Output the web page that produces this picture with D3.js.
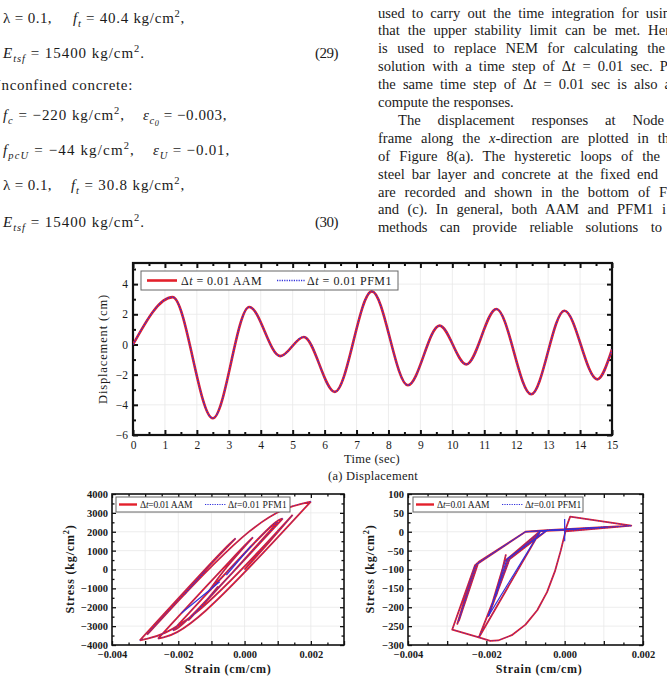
<!DOCTYPE html>
<html>
<head>
<meta charset="utf-8">
<script src="https://d3js.org/d3.v7.min.js"></script>
<style>
  body { margin: 0; background: #fff; }
  svg text { font-family: "Liberation Serif", "DejaVu Serif", serif; fill: #1a1a1a; }
</style>
</head>
<body>
<svg id="page" width="667" height="676"></svg>
<script>
// ---- data ----
// (a) displacement at the node, extrema of the record (sec, cm)
var dispTime = [0, 1.24, 2.50, 3.64, 4.61, 5.35, 6.32, 7.48, 8.61, 9.60, 10.44, 11.38, 12.47, 13.51, 14.54, 15.0];
var dispAAM  = [0, 3.14, -4.89, 2.48, -0.77, 0.50, -3.14, 3.52, -2.70, 1.25, -1.32, 2.35, -3.30, 2.24, -2.31, -0.33];

// (b) steel bar: reversal points and branch knees (strain x 1e-3, kg/cm2)
var steelRev = [[0,0],[1.45,2890],[-3.16,-3750],[-0.27,1650],[-1.80,-1300],[-1.20,-100],[-2.94,-3450],
                [2.00,3600],[-2.61,-3660],[0.25,1700],[-1.10,-1200],[1.15,2700],[-2.16,-3220],[1.00,2500],
                [-1.70,-2700],[-0.80,-900]];
var steelKnee = [[0.75,1450],[-1.75,-3185],[-0.60,1150],[-1.10,150],[-1.50,-700],[-2.10,-1810],[0.44,2970],
                 [-1.61,-3260],[0.00,1300],[-0.60,50],[0.90,2600],[-1.91,-3110],[0.81,2420],[-1.10,-1600],
                 [-1.25,-1850]];
var steelPFMOnly = [[[-1.90,-2300],[-0.75,-650]], [[-0.55,-300],[0.20,1250]]];

// (c) concrete path (strain x 1e-3, kg/cm2)
var concAAM = [
  [0,0],[0.14,40],[1.70,16],[0.02,1],
  [-0.10,-50],[-0.25,-105],[-0.45,-160],[-0.70,-208],[-1.00,-246],[-1.35,-274],[-1.70,-288],[-1.90,-289],[-2.19,-280],
  [-2.87,-259],[-2.29,-89],[-1.00,0],[-0.45,4],[1.03,12],
  [-0.62,2],[-0.90,-30],[-0.45,4],[0.20,6],
  [-1.00,0],[-2.29,-89],[-2.74,-244],
  [-2.25,-85],[-1.00,0],[-0.45,4],[1.70,16],
  [-0.62,2],[-2.19,-280],
  [-1.41,-73],[-0.45,4],[0.35,7],
  [-0.62,2],[-1.53,-78],[-1.94,-222],
  [-1.41,-73],[-0.62,2],[1.10,13],
  [-1.00,0],[-2.27,-88],[-2.70,-236],
  [-2.20,-80],[-1.00,0],[-0.45,4],[0.90,11],
  [-0.62,2],[-1.45,-75],[-1.75,-170],
  [-1.50,-60]
];
var concPFMOnly = [[[-0.45,4],[-1.47,-72],[-1.95,-225]], [[-1.94,-222],[-0.62,2]], [[0,34],[0,-25]]];

var legendNames = ["AAM", "PFM1"];

// ---- page ----
var page = d3.select("#page");
var RED = "#e3202b", BLUE = "#3030dc";

// text with sub/superscripts, optionally stretched to a width
function segText(g, x, y, segs, size, target, mode) {
  var t = g.append("text").attr("x", x).attr("y", y).style("font-size", size + "px");
  var off = 0;
  segs.forEach(function(s) {
    var kind = s[1] || "", want = 0, fs = size;
    if (kind == "sub") { want = size * 0.28; fs = size * 0.7; }
    if (kind == "subsub") { want = size * 0.42; fs = size * 0.55; }
    if (kind == "sup") { want = -size * 0.4; fs = size * 0.7; }
    var ts = t.append("tspan").text(s[0]).attr("dy", want - off).style("font-size", fs + "px");
    off = want;
    if (kind == "i" || kind == "sub" || kind == "subsub") ts.style("font-style", "italic");
  });
  if (target) {
    var w = t.node().getComputedTextLength();
    var str = t.text();
    if (mode == "word") {
      var n = str.split(" ").length - 1;
      if (n > 0) t.style("word-spacing", ((target - w) / n) + "px");
    } else {
      t.style("letter-spacing", ((target - w) / str.length) + "px");
    }
  }
  return t;
}
function parse(str) {
  return str.split("*").map(function(p, i) { return [p, i % 2 ? "i" : ""]; });
}

// left column equations
var eq = page.append("g");
segText(eq, 3, 23, [["λ = 0.1,"]], 15, 49);
segText(eq, 73, 23, [["f","i"],["t","sub"],[" = 40.4 kg/cm"],["2","sup"],[","]], 15, 112);
segText(eq, 3, 58, [["E","i"],["tsf","sub"],[" = 15400 kg/cm"],["2","sup"],["."]], 15, 142);
segText(eq, 315, 58, [["(29)"]], 15, 23);
segText(eq, -10, 90, [["Unconfined concrete:"]], 15, 143);
segText(eq, 3, 120, [["f","i"],["c","sub"],[" = −220 kg/cm"],["2","sup"],[","]], 15, 122);
segText(eq, 143, 120, [["ε","i"],["c","sub"],["0","subsub"],[" = −0.003,"]], 15, 84);
segText(eq, 3, 155, [["f","i"],["pcU","sub"],[" = −44 kg/cm"],["2","sup"],[","]], 15, 132);
segText(eq, 153, 155, [["ε","i"],["U","sub"],[" = −0.01,"]], 15, 77);
segText(eq, 3, 190, [["λ = 0.1,"]], 15, 49);
segText(eq, 71, 190, [["f","i"],["t","sub"],[" = 30.8 kg/cm"],["2","sup"],[","]], 15, 114);
segText(eq, 3, 227, [["E","i"],["tsf","sub"],[" = 15400 kg/cm"],["2","sup"],["."]], 15, 142);
segText(eq, 315, 227, [["(30)"]], 15, 23);

// right column paragraph
var body = [
  ["used to carry out the time integration for usin", 378, 292],
  ["that the upper stability limit can be met. Her", 378, 292],
  ["is used to replace NEM for calculating the", 378, 287],
  ["solution with a time step of Δ*t* = 0.01 sec. P", 378, 290],
  ["the same time step of Δ*t* = 0.01 sec is also a", 378, 293],
  ["compute the responses.", 378, 0],
  ["The displacement responses at Node", 398, 266],
  ["frame along the *x*-direction are plotted in th", 378, 291],
  ["of Figure 8(a). The hysteretic loops of the", 378, 282],
  ["steel bar layer and concrete at the fixed end", 378, 280],
  ["are recorded and shown in the bottom of F", 378, 289],
  ["and (c). In general, both AAM and PFM1 i", 378, 288],
  ["methods can provide reliable solutions to", 378, 284]
];
var para = page.append("g");
body.forEach(function(b, i) {
  segText(para, b[1], 17.5 + i * 17.9, parse(b[0]), 14.6, b[2], "word");
});

// ---- axes frame helper ----
function drawFrame(o) {
  var g = page.append("g");
  var x0 = o.x.range()[0], x1 = o.x.range()[1], y0 = o.y.range()[1], y1 = o.y.range()[0];
  g.selectAll(".gx").data(o.xGrid).enter().append("line")
    .attr("x1", function(d) { return o.x(d); }).attr("x2", function(d) { return o.x(d); })
    .attr("y1", y0).attr("y2", y1).attr("stroke", "#e9e9e9").attr("stroke-width", 0.8);
  g.selectAll(".gy").data(o.yGrid).enter().append("line")
    .attr("y1", function(d) { return o.y(d); }).attr("y2", function(d) { return o.y(d); })
    .attr("x1", x0).attr("x2", x1).attr("stroke", "#e9e9e9").attr("stroke-width", 0.8);

  function ax(gen, scale, vals, len, fmt, tr, pad) {
    var a = g.append("g").attr("transform", tr)
      .call(gen(scale).tickValues(vals).tickSize(-len).tickPadding(pad).tickFormat(fmt || ""));
    a.select(".domain").remove();
    a.selectAll("line").attr("stroke", "#111").attr("stroke-width", o.tickW);
    a.selectAll("text").style("font-size", o.fs + "px").style("font-weight", o.bold ? "bold" : "normal")
      .attr("fill", "#222");
  }
  ax(d3.axisBottom, o.x, o.xMajor, o.majLen, o.xFmt, "translate(0," + y1 + ")", o.padX);
  ax(d3.axisBottom, o.x, o.xMinor, o.minLen, "", "translate(0," + y1 + ")", 0);
  ax(d3.axisTop, o.x, o.xMajor, o.majLen, "", "translate(0," + y0 + ")", 0);
  ax(d3.axisTop, o.x, o.xMinor, o.minLen, "", "translate(0," + y0 + ")", 0);
  ax(d3.axisLeft, o.y, o.yMajor, o.majLen, o.yFmt, "translate(" + x0 + ",0)", o.padY);
  ax(d3.axisLeft, o.y, o.yMinor, o.minLen, "", "translate(" + x0 + ",0)", 0);
  ax(d3.axisRight, o.y, o.yMajor, o.majLen, "", "translate(" + x1 + ",0)", 0);
  ax(d3.axisRight, o.y, o.yMinor, o.minLen, "", "translate(" + x1 + ",0)", 0);
  g.append("rect").attr("x", x0).attr("y", y0).attr("width", x1 - x0).attr("height", y1 - y0)
    .attr("fill", "none").attr("stroke", "#111").attr("stroke-width", o.frameW);
  return g;
}

function clipFor(id, x, y) {
  page.append("clipPath").attr("id", id).append("rect")
    .attr("x", x.range()[0]).attr("y", y.range()[1])
    .attr("width", x.range()[1] - x.range()[0]).attr("height", y.range()[0] - y.range()[1]);
}

function legend(x, y, w, h, fs, lineW, dotW, lay, spaced) {
  var g = page.append("g").attr("transform", "translate(" + x + "," + y + ")");
  g.append("rect").attr("width", w).attr("height", h).attr("fill", "#fff").attr("stroke", "#666").attr("stroke-width", 1);
  var my0 = h / 2;
  g.append("line").attr("x1", lay[0]).attr("x2", lay[1]).attr("y1", my0).attr("y2", my0)
    .attr("stroke", RED).attr("stroke-width", lineW);
  g.append("line").attr("x1", lay[4]).attr("x2", lay[5]).attr("y1", my0).attr("y2", my0)
    .attr("stroke", BLUE).attr("stroke-width", dotW).attr("stroke-dasharray", "1.2,1.2");
  var eqs = spaced ? " = 0.01 " : "=0.01  ";
  segText(g, lay[2], my0 + fs * 0.35, [["Δ"],["t","i"],[eqs + legendNames[0]]], fs, lay[3]);
  segText(g, lay[6], my0 + fs * 0.35, [["Δ"],["t","i"],[eqs + legendNames[1]]], fs, lay[7]);
}

// ---- (a) displacement ----
var mx = d3.scaleLinear().domain([0, 15]).range([133, 612]);
var my = d3.scaleLinear().domain([-6, 5.4]).range([435, 263]);
drawFrame({
  x: mx, y: my,
  xMajor: d3.range(0, 16, 1), xMinor: d3.range(0.5, 15, 1),
  yMajor: [-6, -4, -2, 0, 2, 4], yMinor: [-5, -3, -1, 1, 3, 5],
  xGrid: d3.range(1, 15, 1), yGrid: [-4, -2, 0, 2, 4],
  xFmt: d3.format("d"), yFmt: d3.format("d"),
  majLen: 5, minLen: 3, tickW: 2, frameW: 2.2, fs: 11.5, padX: 6, padY: 5, bold: false
});
clipFor("clipA", mx, my);
var dispPts = dispTime.map(function(t, i) { return [t, dispAAM[i]]; });
var dispLine = d3.line().x(function(d) { return mx(d[0]); }).y(function(d) { return my(d[1]); }).curve(d3.curveMonotoneX);
var ga = page.append("g").attr("clip-path", "url(#clipA)");
ga.append("path").attr("d", dispLine(dispPts)).attr("fill", "none").attr("stroke", RED).attr("stroke-width", 2.6);
ga.append("path").attr("d", dispLine(dispPts)).attr("fill", "none").attr("stroke", BLUE)
  .attr("stroke-width", 1.3).attr("stroke-dasharray", "1.4,1.4");
legend(141, 271, 257, 19, 12, 2.6, 1.4, [6, 36, 40, 81, 136, 164, 166, 85], true);

segText(page, 372, 463, [["Time (sec)"]], 12.5, 56).attr("text-anchor", "middle");
segText(page, 373, 480, [["(a) Displacement"]], 12.5, 90).attr("text-anchor", "middle");
var ylab = page.append("g").attr("transform", "translate(107,349) rotate(-90)");
segText(ylab, 0, 0, [["Displacement (cm)"]], 12.5, 110).attr("text-anchor", "middle");

// ---- (b) steel bar ----
var sx = d3.scaleLinear().domain([-4, 3]).range([112, 344]);
var sy = d3.scaleLinear().domain([-4000, 4000]).range([645, 494]);
var strainFmt = function(d) { return d3.format(".3f")(d / 1000); };
drawFrame({
  x: sx, y: sy,
  xMajor: [-4, -3, -2, -1, 0, 1, 2, 3], xMinor: d3.range(-3.5, 3, 1),
  yMajor: d3.range(-4000, 4001, 1000), yMinor: d3.range(-3500, 4000, 1000),
  xGrid: [-3, -2, -1, 0, 1, 2], yGrid: d3.range(-3000, 4000, 1000),
  xFmt: function(d) { return d % 2 == 0 ? strainFmt(d) : ""; }, yFmt: d3.format("d"),
  majLen: 4, minLen: 2.5, tickW: 1.3, frameW: 1.6, fs: 10.5, padX: 6, padY: 4, bold: true
});
clipFor("clipB", sx, sy);
var basis = d3.line().x(function(d) { return sx(d[0]); }).y(function(d) { return sy(d[1]); }).curve(d3.curveBasis);
var steelD = d3.range(steelRev.length - 1).map(function(i) {
  return basis([steelRev[i], steelKnee[i], steelRev[i + 1]]);
}).join("");
var gb = page.append("g").attr("clip-path", "url(#clipB)");
gb.append("path").attr("d", steelD).attr("fill", "none").attr("stroke", RED).attr("stroke-width", 1.8);
var sLin = d3.line().x(function(d) { return sx(d[0]); }).y(function(d) { return sy(d[1]); });
steelPFMOnly.forEach(function(s) {
  gb.append("path").attr("d", sLin(s)).attr("fill", "none").attr("stroke", BLUE).attr("stroke-width", 1.2);
});
gb.append("path").attr("d", steelD).attr("fill", "none").attr("stroke", BLUE)
  .attr("stroke-width", 0.9).attr("stroke-dasharray", "1,1.6");
legend(116, 497, 174, 15, 9.5, 2.4, 1.1, [3, 21, 24, 52, 89, 110, 112, 59], false);

// ---- (c) concrete ----
var cx = d3.scaleLinear().domain([-4, 2]).range([408, 643]);
var cy = d3.scaleLinear().domain([-300, 100]).range([645, 494]);
drawFrame({
  x: cx, y: cy,
  xMajor: [-4, -3, -2, -1, 0, 1, 2], xMinor: d3.range(-3.5, 2, 1),
  yMajor: d3.range(-300, 101, 50), yMinor: d3.range(-275, 100, 50),
  xGrid: [-3, -2, -1, 0, 1], yGrid: d3.range(-250, 100, 50),
  xFmt: function(d) { return d % 2 == 0 ? strainFmt(d) : ""; }, yFmt: d3.format("d"),
  majLen: 4, minLen: 2.5, tickW: 1.3, frameW: 1.6, fs: 10.5, padX: 6, padY: 4, bold: true
});
clipFor("clipC", cx, cy);
var cLin = d3.line().x(function(d) { return cx(d[0]); }).y(function(d) { return cy(d[1]); });
var gc = page.append("g").attr("clip-path", "url(#clipC)");
gc.append("path").attr("d", cLin(concAAM)).attr("fill", "none").attr("stroke", RED)
  .attr("stroke-width", 1.8).attr("stroke-linejoin", "round");
concPFMOnly.forEach(function(s) {
  gc.append("path").attr("d", cLin(s)).attr("fill", "none").attr("stroke", BLUE).attr("stroke-width", 1.2);
});
gc.append("path").attr("d", cLin(concAAM)).attr("fill", "none").attr("stroke", BLUE)
  .attr("stroke-width", 0.9).attr("stroke-dasharray", "1,1.6");
legend(413, 497, 170, 15, 9.5, 2.4, 1.1, [3, 21, 24, 52, 89, 110, 112, 56], false);

// bottom axis titles
[[228, 70], [539, 370]].forEach(function(p) {
  segText(page, p[0], 673, [["Strain (cm/cm)"]], 12, 82).attr("text-anchor", "middle").style("font-weight", "bold");
  var g = page.append("g").attr("transform", "translate(" + (p[1] + 4) + ",569) rotate(-90)");
  segText(g, 0, 0, [["Stress (kg/cm"],["2","sup"],[")"]], 12, 86).attr("text-anchor", "middle").style("font-weight", "bold");
});
</script>
</body>
</html>
